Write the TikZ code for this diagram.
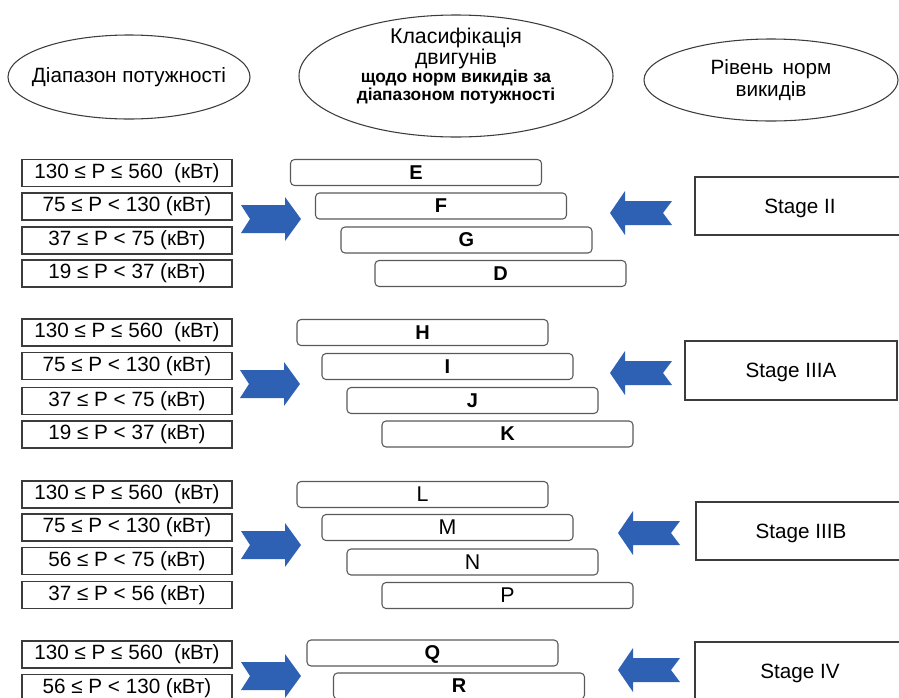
\documentclass[tikz,border=0pt]{standalone}
\usepackage{fontspec}
\setmainfont{Liberation Sans}
\usetikzlibrary{shapes.geometric}

\newcommand*{\pxu}{0.75pt}
\definecolor{arrowblue}{RGB}{46,96,180}
\definecolor{edgegray}{RGB}{60,60,60}

\begin{document}
\begin{tikzpicture}
[
	x=0.75pt, y=-0.75pt,
	hdr/.style={ellipse,draw=edgegray,line width=0.8pt,inner sep=0pt},
	hdrtext/.style={align=center,inner sep=0pt,font=\fontsize{15.5}{17}\selectfont},
	rangebox/.style={draw=edgegray,line width=0.9pt,minimum width=210*\pxu,minimum height=27*\pxu,inner sep=0pt,font=\fontsize{15.5}{16}\selectfont},
	classbar/.style={draw=edgegray!85,line width=0.8pt,rounded corners=3pt,minimum width=251*\pxu,minimum height=26*\pxu,inner sep=0pt,text depth=0pt,font=\fontsize{15}{16}\selectfont},
	stagebox/.style={draw=edgegray,line width=0.9pt,minimum width=210*\pxu,minimum height=58*\pxu,inner sep=0pt,text depth=0pt,font=\fontsize{15.5}{16}\selectfont},
	toclass/.pic={\fill[arrowblue] (-30,-14) -- (14,-14) -- (14,-22) -- (30,0) -- (14,22) -- (14,14) -- (-30,14) -- (-21,0) -- cycle;},
	fromstage/.pic={\fill[arrowblue] (-31,0) -- (-16,-22) -- (-16,-12) -- (31,-12) -- (22,0) -- (31,12) -- (-16,12) -- (-16,22) -- cycle;}
]

	\useasboundingbox (0,0) rectangle (899,697);
	\clip (0,0) rectangle (899,697);

	% headers
	\node[hdr,minimum width=242*\pxu,minimum height=84*\pxu] (hdrRange) at (129,77) {};
	\node[hdrtext] (hdrRangeTxt) at (hdrRange.center) {Діапазон потужності};
	\node[hdr,minimum width=314*\pxu,minimum height=122*\pxu] (hdrClass) at (456,76) {};
	\node[align=center,inner sep=0pt] (hdrClassTxt) at (456,66)
		{\fontsize{16}{16}\selectfont Класифікація\\
		 \fontsize{16}{16}\selectfont двигунів\\
		 \fontsize{13}{13.5}\selectfont\bfseries щодо норм викидів за\\
		 \fontsize{13}{13.5}\selectfont\bfseries діапазоном потужності};
	\node[hdr,minimum width=254*\pxu,minimum height=82*\pxu] (hdrLevel) at (771,80) {};
	\node[hdrtext] (hdrLevelTxt) at (hdrLevel.center) {Рівень\, норм\\ викидів};

	% Stage II
	\node[rangebox] (pa1) at (127,173) {130 ≤ P ≤ 560\ \ (кВт)};
	\node[rangebox] (pa2) at (127,206.5) {75 ≤ P < 130 (кВт)};
	\node[rangebox] (pa3) at (127,240.5) {37 ≤ P < 75 (кВт)};
	\node[rangebox] (pa4) at (127,273.5) {19 ≤ P < 37 (кВт)};
	%
	\node[classbar] (clsE) at (416,172.5) {\bfseries E};
	\node[classbar] (clsF) at (441,206) {\bfseries F};
	\node[classbar] (clsG) at (466.5,240) {\bfseries G};
	\node[classbar] (clsD) at (500.5,273.5) {\bfseries D};
	%
	\pic at (271,219) {toclass};
	\pic at (641,213) {fromstage};
	\node[stagebox] (stII) at (800,206) {Stage II};

	% Stage IIIA
	\node[rangebox] (pb1) at (127,332.5) {130 ≤ P ≤ 560\ \ (кВт)};
	\node[rangebox] (pb2) at (127,366) {75 ≤ P < 130 (кВт)};
	\node[rangebox] (pb3) at (127,401) {37 ≤ P < 75 (кВт)};
	\node[rangebox] (pb4) at (127,434.5) {19 ≤ P < 37 (кВт)};
	%
	\node[classbar] (clsH) at (422.5,332.5) {\bfseries H};
	\node[classbar] (clsI) at (447.5,366.5) {\bfseries I};
	\node[classbar] (clsJ) at (472.5,400.5) {\bfseries J};
	\node[classbar] (clsK) at (507.5,434) {\bfseries K};
	%
	\pic at (270,384) {toclass};
	\pic at (641,373) {fromstage};
	\node[stagebox,minimum width=212*\pxu,minimum height=59*\pxu] (stIIIA) at (791,370.5) {Stage IIIA};

	% Stage IIIB
	\node[rangebox] (pc1) at (127,494.5) {130 ≤ P ≤ 560\ \ (кВт)};
	\node[rangebox] (pc2) at (127,527.5) {75 ≤ P < 130 (кВт)};
	\node[rangebox] (pc3) at (127,561) {56 ≤ P < 75 (кВт)};
	\node[rangebox] (pc4) at (127,595) {37 ≤ P < 56 (кВт)};
	%
	\node[classbar,font=\fontsize{16}{17}\selectfont] (clsL) at (422.5,494.5) {L};
	\node[classbar,font=\fontsize{16}{17}\selectfont] (clsM) at (447.5,527.5) {M};
	\node[classbar,font=\fontsize{16}{17}\selectfont] (clsN) at (472.5,562) {N};
	\node[classbar,font=\fontsize{16}{17}\selectfont] (clsP) at (507.5,595.5) {P};
	%
	\pic at (271,545) {toclass};
	\pic at (649,533) {fromstage};
	\node[stagebox] (stIIIB) at (801,531) {Stage IIIB};

	% Stage IV
	\node[rangebox] (pd1) at (127,654.5) {130 ≤ P ≤ 560\ \ (кВт)};
	\node[rangebox] (pd2) at (127,688) {56 ≤ P < 130 (кВт)};
	%
	\node[classbar] (clsQ) at (432.5,653) {\bfseries Q};
	\node[classbar] (clsR) at (459,686) {\bfseries R};
	%
	\pic at (271,676) {toclass};
	\pic at (649,670) {fromstage};
	\node[stagebox] (stIV) at (800,671) {Stage IV};

\end{tikzpicture}
\end{document}
